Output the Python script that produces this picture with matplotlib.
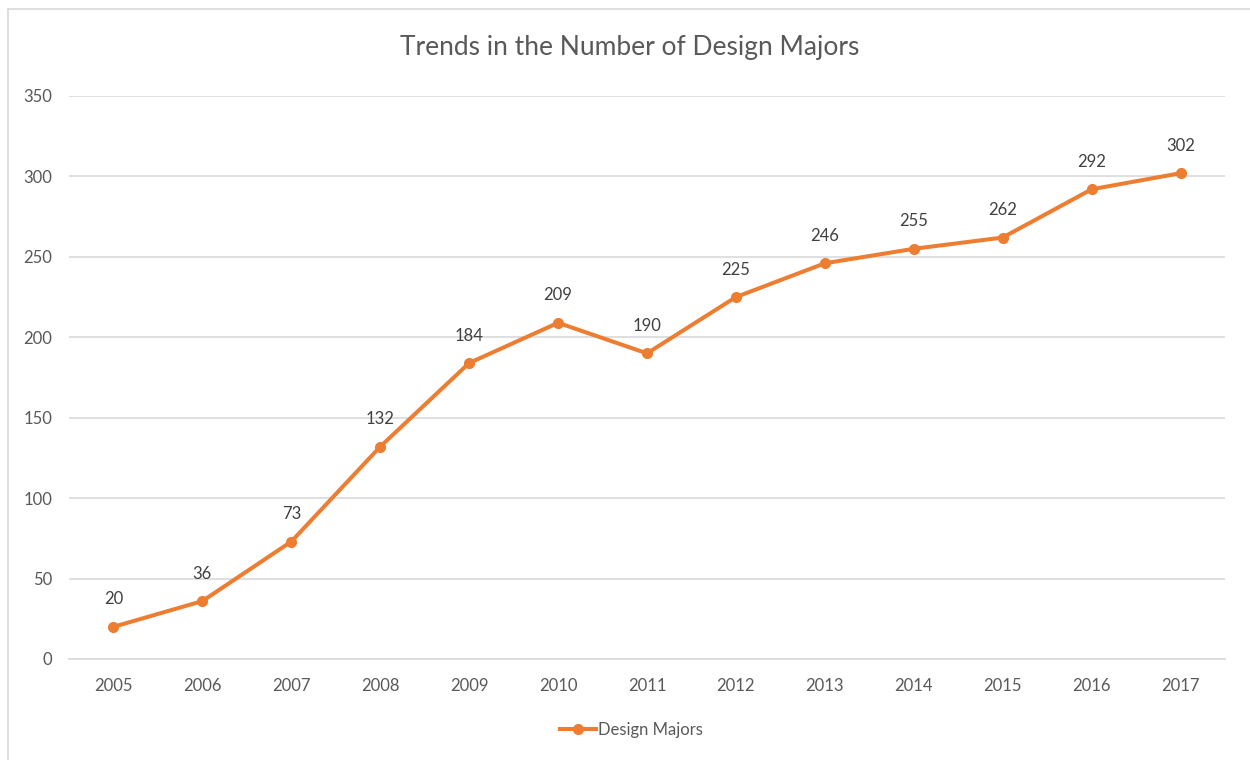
import matplotlib
matplotlib.use("Agg")
import matplotlib.pyplot as plt
from matplotlib.lines import Line2D

years = ["2005", "2006", "2007", "2008", "2009", "2010", "2011",
         "2012", "2013", "2014", "2015", "2016", "2017"]
majors = [20, 36, 73, 132, 184, 209, 190, 225, 246, 255, 262, 292, 302]
yticks = [0, 50, 100, 150, 200, 250, 300, 350]

plt.rcParams['font.family'] = ['Lato', 'DejaVu Sans']
orange = "#ED7D31"
tick_color = "#595959"

fig = plt.figure(figsize=(12.5, 7.6), dpi=100)
ax = fig.add_axes([0.0552, 0.1329, 0.9248, 0.7408])

x = list(range(len(years)))
ax.plot(x, majors, color=orange, linewidth=2.9, marker="o", markersize=7,
        solid_capstyle="round", solid_joinstyle="round", zorder=3)

for xi, v in zip(x, majors):
    ax.annotate(str(v), (xi, v), xytext=(0, 14), textcoords="offset points",
                ha="center", va="bottom", fontsize=12, color="#404040")

ax.set_xlim(-0.5, len(years) - 0.5)
ax.set_ylim(0, 350)
ax.set_yticks(yticks)
ax.set_xticks(x)
ax.set_xticklabels(years)
ax.grid(axis="y", color="#D9D9D9", linewidth=1.2)
ax.set_axisbelow(True)
for s in ["top", "right", "left"]:
    ax.spines[s].set_visible(False)
ax.spines["bottom"].set_color("#D9D9D9")
ax.spines["bottom"].set_linewidth(1.2)
ax.tick_params(axis="both", length=0, labelsize=12, labelcolor=tick_color)
ax.tick_params(axis="y", pad=12)
ax.tick_params(axis="x", pad=14)

fig.text(0.504, 0.938, "Trends in the Number of Design Majors", ha="center",
         va="center", fontsize=19, color=tick_color)

handle = Line2D([], [], color=orange, linewidth=2.9, marker="o", markersize=7)
fig.legend([handle], ["Design Majors"], loc="center", bbox_to_anchor=(0.505, 0.04),
           frameon=False, fontsize=12, labelcolor=tick_color, handlelength=2.2,
           handletextpad=0.1)

# chart border (top and left visible)
fig.add_artist(Line2D([0.0064, 1.0], [0.988, 0.988], transform=fig.transFigure,
                      color="#D9D9D9", linewidth=1.2))
fig.add_artist(Line2D([0.0064, 0.0064], [0.0, 0.988], transform=fig.transFigure,
                      color="#D9D9D9", linewidth=1.2))

fig.savefig("out.png", dpi=100, facecolor="white")
